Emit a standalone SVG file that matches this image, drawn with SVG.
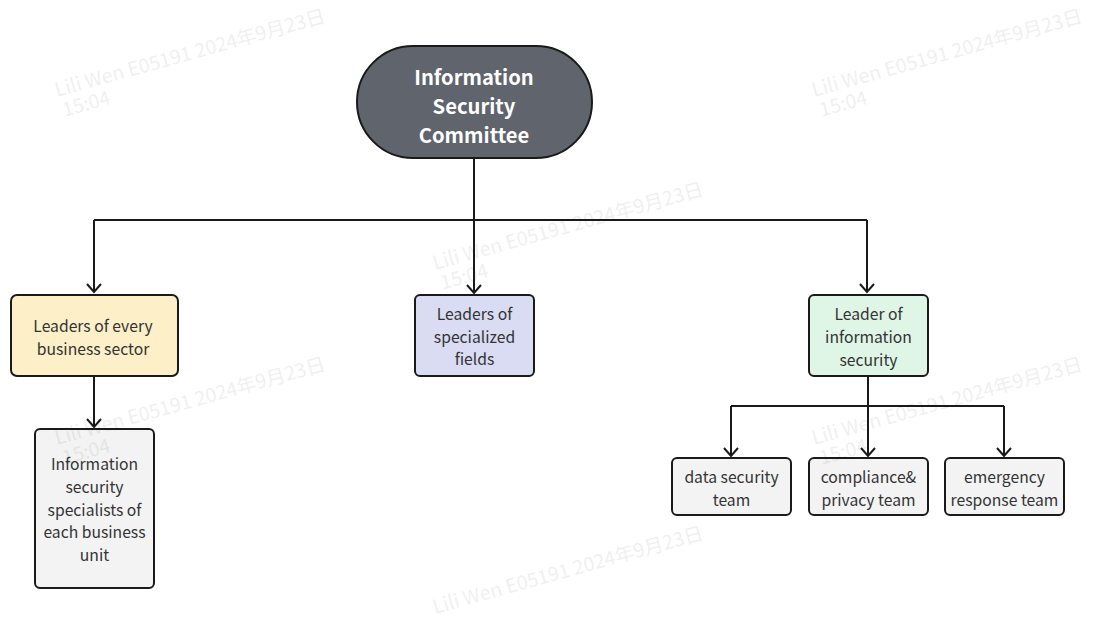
<svg xmlns="http://www.w3.org/2000/svg" width="1095" height="620" viewBox="0 0 1095 620">
<style>
.box{stroke:#1a1a1a;stroke-width:2}
.t{font-family:"Noto Sans CJK SC","Noto Sans",sans-serif;font-size:15.7px;fill:#333;text-anchor:middle;dominant-baseline:central}
.tt{font-family:"Noto Sans CJK SC","Noto Sans",sans-serif;font-size:20.2px;font-weight:bold;fill:#fff;text-anchor:middle;dominant-baseline:central}
.c{fill:none;stroke:#1a1a1a;stroke-width:2}
.wm{font-family:"Noto Sans CJK SC","Noto Sans",sans-serif;font-size:19.5px;fill:#000;opacity:0.06}
</style>
<rect width="1095" height="620" fill="#fff"/>
<g id="connectors">
<path class="c" d="M474,158 V293"/>
<path class="c" d="M94,220 H867"/>
<path class="c" d="M94,220 V292"/>
<path class="c" d="M867,220 V292"/>
<path class="c" d="M94,376 V427"/>
<path class="c" d="M868,376 V456"/>
<path class="c" d="M731,406 H1004"/>
<path class="c" d="M731,406 V456"/>
<path class="c" d="M1004,406 V456"/>
<g id="arrowheads" fill="none" stroke="#1a1a1a" stroke-width="2">
<path d="M467,285 L474,293 L481,285"/>
<path d="M87,284 L94,292 L101,284"/>
<path d="M860,284 L867,292 L874,284"/>
<path d="M87,419 L94,427 L101,419"/>
<path d="M724,448 L731,456 L738,448"/>
<path d="M861,448 L868,456 L875,448"/>
<path d="M997,448 L1004,456 L1011,448"/>
</g>
</g>
<g id="committee">
<rect class="box" x="357" y="46" width="235" height="112" rx="56" fill="#5f646d"/>
<text class="tt" x="474" y="76">Information</text>
<text class="tt" x="474" y="105">Security</text>
<text class="tt" x="474" y="134">Committee</text>
</g>
<g id="leaders-business">
<rect class="box" x="11" y="295" width="167" height="81" rx="6" fill="#fdefc8"/>
<text class="t" x="93" y="325">Leaders of every</text>
<text class="t" x="93" y="348">business sector</text>
</g>
<g id="leaders-specialized">
<rect class="box" x="415" y="295" width="119" height="81" rx="5" fill="#d9dcf3"/>
<text class="t" x="474.5" y="313">Leaders of</text>
<text class="t" x="474.5" y="336">specialized</text>
<text class="t" x="474.5" y="358">fields</text>
</g>
<g id="leader-infosec">
<rect class="box" x="809" y="295" width="119" height="81" rx="5" fill="#dff5e5"/>
<text class="t" x="868.5" y="313">Leader of</text>
<text class="t" x="868.5" y="336">information</text>
<text class="t" x="868.5" y="359">security</text>
</g>
<g id="specialists">
<rect class="box" x="35" y="429" width="119" height="159" rx="5" fill="#f3f3f3"/>
<text class="t" x="94.5" y="463">Information</text>
<text class="t" x="94.5" y="486">security</text>
<text class="t" x="94.5" y="509">specialists of</text>
<text class="t" x="94.5" y="531">each business</text>
<text class="t" x="94.5" y="554">unit</text>
</g>
<g id="data-security">
<rect class="box" x="672" y="458" width="119" height="57" rx="5" fill="#f3f3f3"/>
<text class="t" x="731.5" y="476">data security</text>
<text class="t" x="731.5" y="499">team</text>
</g>
<g id="compliance">
<rect class="box" x="809" y="458" width="119" height="57" rx="5" fill="#f3f3f3"/>
<text class="t" x="868.5" y="476">compliance&amp;</text>
<text class="t" x="868.5" y="499">privacy team</text>
</g>
<g id="emergency">
<rect class="box" x="945" y="458" width="119" height="57" rx="5" fill="#f3f3f3"/>
<text class="t" x="1004.5" y="476">emergency</text>
<text class="t" x="1004.5" y="499">response team</text>
</g>
<g id="watermarks">
<g transform="translate(57,97) rotate(-15.5)"><text class="wm" x="0" y="0">Lili Wen E05191 2024年9月23日</text><text class="wm" x="2" y="21">15:04</text></g>
<g transform="translate(814,97) rotate(-15.5)"><text class="wm" x="0" y="0">Lili Wen E05191 2024年9月23日</text><text class="wm" x="2" y="21">15:04</text></g>
<g transform="translate(435,270) rotate(-15.5)"><text class="wm" x="0" y="0">Lili Wen E05191 2024年9月23日</text><text class="wm" x="2" y="21">15:04</text></g>
<g transform="translate(57,445) rotate(-15.5)"><text class="wm" x="0" y="0">Lili Wen E05191 2024年9月23日</text><text class="wm" x="2" y="21">15:04</text></g>
<g transform="translate(814,445) rotate(-15.5)"><text class="wm" x="0" y="0">Lili Wen E05191 2024年9月23日</text><text class="wm" x="2" y="21">15:04</text></g>
<g transform="translate(435,614) rotate(-15.5)"><text class="wm" x="0" y="0">Lili Wen E05191 2024年9月23日</text></g>
</g>
</svg>
